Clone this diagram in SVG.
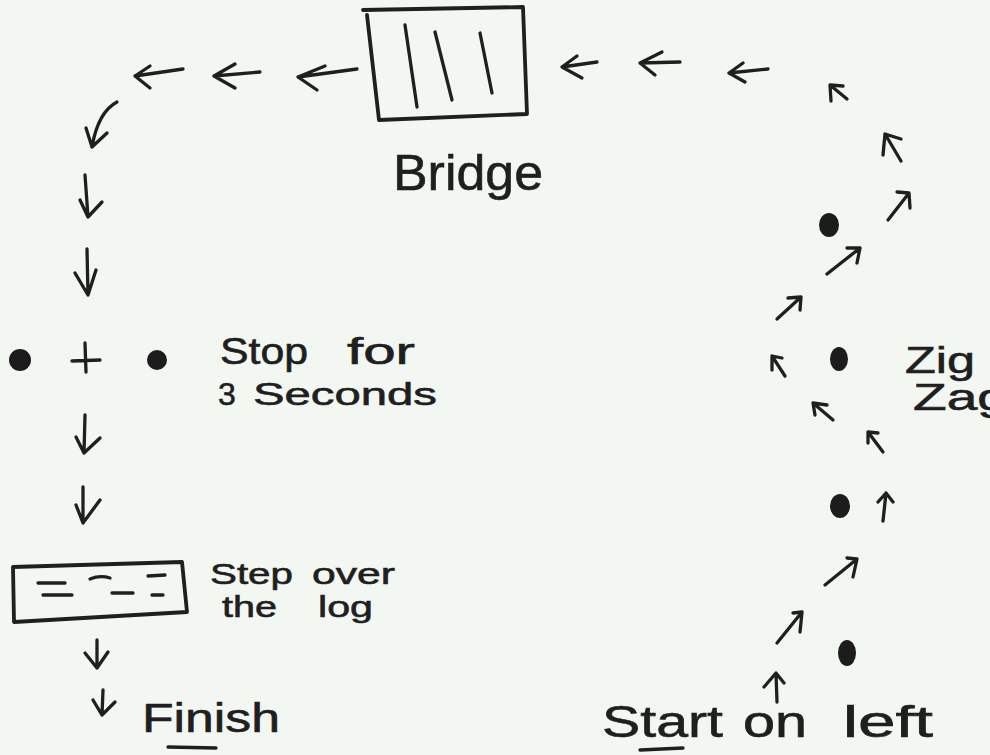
<svg xmlns="http://www.w3.org/2000/svg" width="990" height="755" viewBox="0 0 990 755">
<style>
.ink{fill:none;stroke:#1f1f1f;stroke-width:3.3;stroke-linecap:round;stroke-linejoin:round}
.box{fill:none;stroke:#1f1f1f;stroke-width:3.8;stroke-linecap:round;stroke-linejoin:round}
.dot{fill:#1c1c1c}
.t{font-family:"Liberation Sans",Arial,sans-serif;fill:#1f1f1f;stroke:#1f1f1f;stroke-width:0.6}
</style>
<rect width="990" height="755" fill="#f3f7f2"/>

<g id="bridge">
<path class="box" d="M363,10 L523,7 L527,114 L379,120 M367,15 L379,120"/>
<path class="ink" d="M405,25 L417,107 M435,32 L452,100 M480,33 L492,93"/>
<text class="t" x="393" y="190" font-size="50" textLength="150" lengthAdjust="spacingAndGlyphs">Bridge</text>
</g>

<g id="stop">
<circle class="dot" cx="20" cy="360" r="11"/>
<path class="ink" d="M85,343 L86,372 M72,361 L100,360"/>
<circle class="dot" cx="157" cy="360" r="10"/>
<text class="t" x="220" y="364" font-size="36" textLength="88" lengthAdjust="spacingAndGlyphs">Stop</text>
<text class="t" x="347" y="364" font-size="36" textLength="68" lengthAdjust="spacingAndGlyphs">for</text>
<text class="t" x="218" y="405" font-size="32">3</text>
<text class="t" x="253" y="405" font-size="32" textLength="184" lengthAdjust="spacingAndGlyphs">Seconds</text>
</g>

<g id="log">
<path class="box" d="M13,567 L182,562 L187,612 L14,622 Z"/>
<path class="ink" d="M38,583 L65,583 M43,595 L72,595 M90,579 Q100,575 110,578 M112,593 L133,593 M148,576 L165,575 M152,595 L163,595"/>
<text class="t" x="210" y="584" font-size="30" textLength="83" lengthAdjust="spacingAndGlyphs">Step</text>
<text class="t" x="312" y="584" font-size="30" textLength="83" lengthAdjust="spacingAndGlyphs">over</text>
<text class="t" x="222" y="617" font-size="30" textLength="55" lengthAdjust="spacingAndGlyphs">the</text>
<text class="t" x="318" y="617" font-size="30" textLength="55" lengthAdjust="spacingAndGlyphs">log</text>
</g>

<g id="finish">
<text class="t" x="142" y="732" font-size="40" textLength="138" lengthAdjust="spacingAndGlyphs">Finish</text>
<path class="ink" d="M168,747 L216,748"/>
</g>

<g id="start">
<text class="t" x="602" y="737" font-size="44" textLength="121" lengthAdjust="spacingAndGlyphs">Start</text>
<text class="t" x="743" y="737" font-size="44" textLength="64" lengthAdjust="spacingAndGlyphs">on</text>
<text class="t" x="843" y="737" font-size="44" textLength="90" lengthAdjust="spacingAndGlyphs">left</text>
<path class="ink" d="M640,750 L683,748"/>
</g>

<g id="zigzag">
<ellipse class="dot" cx="829" cy="225" rx="10" ry="12"/>
<ellipse class="dot" cx="839" cy="359" rx="9" ry="12"/>
<ellipse class="dot" cx="840" cy="506" rx="10" ry="12"/>
<ellipse class="dot" cx="847" cy="653" rx="9" ry="13"/>
<text class="t" x="905" y="373" font-size="36" textLength="70" lengthAdjust="spacingAndGlyphs">Zig</text>
<text class="t" x="913" y="410" font-size="36" textLength="95" lengthAdjust="spacingAndGlyphs">Zag</text>
</g>

<g id="connectors" class="ink">
<path d="M183,69 L135,76 M150,66 L135,76 L150,88"/>
<path d="M260,72 L214,76 M235,64 L214,76 L235,88"/>
<path d="M357,69 L298,77 M325,66 L298,77 L317,90"/>
<path d="M597,62 L562,67 M577,56 L562,67 L582,78"/>
<path d="M680,62 L640,63 M662,52 L640,63 L655,75"/>
<path d="M768,69 L729,73 M743,63 L729,73 L745,82"/>
<path d="M847,99 L830,85 M831,101 L830,85 L843,86"/>
<path d="M901,161 L885,134 M883,155 L885,134 L901,139"/>
<path d="M888,220 L909,193 M897,192 L909,193 L910,208"/>
<path d="M827,274 L860,248 M847,248 L860,248 L857,263"/>
<path d="M777,319 L801,297 M788,298 L801,297 L800,310"/>
<path d="M785,376 L772,356 M772,370 L772,356 L782,358"/>
<path d="M833,420 L813,403 M815,415 L813,403 L827,405"/>
<path d="M883,452 L868,432 M868,443 L868,432 L878,433"/>
<path d="M883,521 L886,493 M878,502 L886,493 L893,502"/>
<path d="M825,585 L857,559 M847,558 L857,559 L853,577"/>
<path d="M777,643 L802,612 M793,613 L802,612 L800,632"/>
<path d="M777,702 L776,673 M764,687 L776,673 L784,683"/>
<path d="M117,102 Q98,112 92,147 M86,128 L92,147 L107,133"/>
<path d="M85,175 L88,217 M80,200 L88,217 L102,202"/>
<path d="M87,249 L88,295 M75,273 L88,295 L96,270"/>
<path d="M85,415 L84,453 M76,437 L84,453 L100,438"/>
<path d="M83,487 L83,523 M76,505 L83,523 L100,500"/>
<path d="M97,640 L97,668 M85,653 L97,668 L108,652"/>
<path d="M103,690 L102,715 M93,700 L102,715 L115,702"/>
</g>
</svg>
